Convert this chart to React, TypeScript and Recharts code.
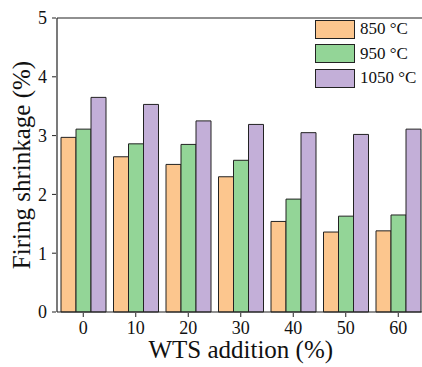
import React from 'react';
import { BarChart, Bar, XAxis, YAxis, Legend, ReferenceLine } from 'recharts';

const categories = ['0', '10', '20', '30', '40', '50', '60'];
const seriesNames = ['850 °C', '950 °C', '1050 °C'];
const s850 = [2.97, 2.64, 2.51, 2.30, 1.54, 1.36, 1.38];
const s950 = [3.11, 2.86, 2.85, 2.58, 1.92, 1.63, 1.65];
const s1050 = [3.65, 3.53, 3.25, 3.19, 3.05, 3.02, 3.11];
const yTicks = [0, 1, 2, 3, 4, 5];
const yMinorTicks = [0.5, 1.5, 2.5, 3.5, 4.5];
const xMinorTicks = [1, 2, 3, 4, 5, 6];

const data = categories.map((c, i) => ({
  cat: c,
  idx: i + 0.5,
  t850: s850[i],
  t950: s950[i],
  t1050: s1050[i],
}));

const FONT = '"Liberation Serif", "Times New Roman", serif';
const INK = '#222';

const LegendContent = (props: any) => {
  const payload = [...(props.payload || [])].sort(
    (a: any, b: any) => seriesNames.indexOf(a.value) - seriesNames.indexOf(b.value)
  );
  return (
    <div style={{ fontFamily: FONT, fontSize: 17, color: '#111' }}>
      {payload.map((p: any) => (
        <div key={p.value} style={{ display: 'flex', alignItems: 'center', height: 24.5 }}>
          <div
            style={{
              width: 38,
              height: 17,
              background: p.color,
              border: `1px solid ${INK}`,
              marginRight: 5,
            }}
          />
          <span>{p.value}</span>
        </div>
      ))}
    </div>
  );
};

export default function App() {
  return (
    <div
      style={{
        position: 'absolute',
        left: 0,
        top: 0,
        width: 422,
        height: 367,
        overflow: 'hidden',
        background: '#fff',
      }}
    >
      <BarChart
        width={430}
        height={367}
        data={data}
        margin={{ top: 18, right: 5.5, left: 0, bottom: 0 }}
        barCategoryGap={4}
        barGap={0}
      >
        <YAxis
          yAxisId="b"
          orientation="left"
          width={56}
          domain={[0, 5]}
          ticks={yTicks}
          interval={0}
          tickSize={4}
          tickMargin={5}
          axisLine={false}
          tickLine={{ stroke: INK }}
          tick={{ fill: '#111', fontSize: 18, fontFamily: FONT }}
          label={{
            value: 'Firing shrinkage (%)',
            angle: -90,
            position: 'insideLeft',
            offset: 21,
            style: { fill: '#111', fontSize: 25, fontFamily: FONT, textAnchor: 'middle' },
          }}
        />
        <YAxis
          yAxisId="a"
          orientation="left"
          width={1}
          domain={[0, 5]}
          ticks={yMinorTicks}
          tick={false}
          tickSize={2}
          axisLine={{ stroke: INK, strokeWidth: 1.2 }}
          tickLine={{ stroke: INK }}
        />
        <XAxis
          xAxisId="b"
          dataKey="cat"
          height={54}
          tickSize={4}
          tickMargin={4}
          interval={0}
          axisLine={false}
          tickLine={{ stroke: INK }}
          tick={{ fill: '#111', fontSize: 18, fontFamily: FONT }}
          label={{
            value: 'WTS addition (%)',
            position: 'insideBottom',
            offset: 9,
            style: { fill: '#111', fontSize: 25, fontFamily: FONT },
          }}
        />
        <XAxis
          xAxisId="a"
          type="number"
          dataKey="idx"
          domain={[0, 7]}
          allowDataOverflow
          ticks={xMinorTicks}
          tick={false}
          tickSize={2}
          height={1}
          axisLine={{ stroke: INK, strokeWidth: 1.2 }}
          tickLine={{ stroke: INK }}
        />
        <ReferenceLine y={5} yAxisId="b" xAxisId="b" stroke={INK} strokeWidth={1.2} />
        <Legend
          layout="vertical"
          align="center"
          verticalAlign="middle"
          content={<LegendContent />}
          wrapperStyle={{ position: 'absolute', left: 315, top: 17, width: 110 }}
        />
        <Bar
          dataKey="t850"
          name={seriesNames[0]}
          xAxisId="b"
          yAxisId="b"
          fill="#FCC68E"
          stroke={INK}
          strokeWidth={1}
          isAnimationActive={false}
        />
        <Bar
          dataKey="t950"
          name={seriesNames[1]}
          xAxisId="b"
          yAxisId="b"
          fill="#93D597"
          stroke={INK}
          strokeWidth={1}
          isAnimationActive={false}
        />
        <Bar
          dataKey="t1050"
          name={seriesNames[2]}
          xAxisId="b"
          yAxisId="b"
          fill="#C3AFD8"
          stroke={INK}
          strokeWidth={1}
          isAnimationActive={false}
        />
      </BarChart>
    </div>
  );
}
